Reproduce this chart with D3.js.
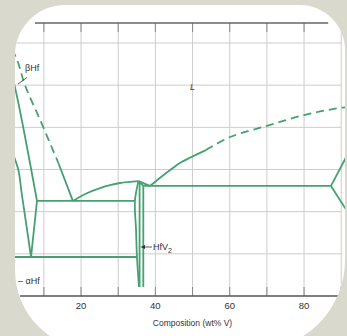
<!DOCTYPE html>
<html>
<head>
<meta charset="utf-8">
<script src="https://cdn.jsdelivr.net/npm/d3@7"></script>
<style>
  body { margin: 0; background: #d9dacd; }
  svg { display: block; }
  text { font-family: "Liberation Sans", Arial, sans-serif; fill: #333; }
</style>
</head>
<body>
<div id="chart"></div>
<script>
// axis ticks (wt% V, deg C)
const xTicks = [10, 20, 30, 40, 50, 60, 70, 80, 90];
const xTickLabels = [20, 40, 60, 80];
const yTicks = [1000, 1200, 1400, 1600, 1800, 2000, 2200];

// phase boundaries, [wt% V, T]
const hfLiquidusDashed = [[0, 2227], [3.0, 2110], [4.9, 2001], [9.0, 1835], [13.9, 1631]];
const hfLiquidusSolid = [[13.9, 1631], [17.8, 1451]];
const betaSolidus = [[0, 2150], [2.8, 1944], [8.15, 1451]];
const betaTransus = [[0, 1743], [3.0, 1607], [4.1, 1479], [6.55, 1185]];
const betaTransusRight = [[8.15, 1451], [6.55, 1185]];
const eutecticLeft = [[8.15, 1451], [34.5, 1451]];
const eutectoid = [[0, 1185], [35.05, 1185]];
const liquidusToPeak = [[17.8, 1451], [21.1, 1484], [25.1, 1512], [27.8, 1526], [30.5, 1536], [35.45, 1545]];
const hfv2Left = [[35.45, 1545], [34.5, 1451], [34.8, 1313], [35.05, 1185], [35.6, 1043]];
const hfv2Middle = [[35.75, 1540], [35.75, 1043]];
const hfv2Right = [[35.45, 1545], [36.75, 1522], [36.75, 1043]];
const peakToEutectic = [[35.45, 1545], [37.2, 1532], [38.55, 1522]];
const vLiquidusSolid = [[38.55, 1522], [41.2, 1560], [44.7, 1607], [46.6, 1631], [53.6, 1692]];
const vLiquidusDashed = [[53.6, 1692], [60.1, 1754], [69.8, 1806], [80.0, 1858], [89.7, 1892], [100, 1910]];
const eutecticRight = [[36.75, 1522], [87.25, 1522]];
const vSolidus = [[87.25, 1522], [93, 1715]];
const vSolvus = [[87.25, 1522], [93, 1363]];

const width = 347, height = 336;
const green = '#46a072';

const svg = d3.select('#chart').append('svg')
  .attr('width', width)
  .attr('height', height);

const xScale = d3.scaleLinear().domain([0, 100]).range([6.7, 378.4]);
const yScale = d3.scaleLinear().domain([1000, 2200]).range([296, 43]);

// card with uneven rounded corners
function cardPath(x0, y0, x1, y1, rtl, rtr, rbr, rbl) {
  const p = d3.path();
  p.moveTo(x0 + rtl, y0);
  p.lineTo(x1 - rtr, y0);
  p.arcTo(x1, y0, x1, y0 + rtr, rtr);
  p.lineTo(x1, y1 - rbr);
  p.arcTo(x1, y1, x1 - rbr, y1, rbr);
  p.lineTo(x0 + rbl, y1);
  p.arcTo(x0, y1, x0, y1 - rbl, rbl);
  p.lineTo(x0, y0 + rtl);
  p.arcTo(x0, y0, x0 + rtl, y0, rtl);
  p.closePath();
  return p.toString();
}
const card = cardPath(15, 5, 345, 350, 50, 45, 90, 80);

svg.append('defs').append('clipPath').attr('id', 'card')
  .append('path').attr('d', card);
svg.append('path').attr('d', card).attr('fill', '#fff');

const g = svg.append('g').attr('clip-path', 'url(#card)');

// grid
g.selectAll('line.hgrid')
  .data(yTicks.slice(1))
  .join('line')
  .attr('class', 'hgrid')
  .attr('x1', 0).attr('x2', xScale(90))
  .attr('y1', d => yScale(d)).attr('y2', d => yScale(d))
  .attr('stroke', '#cdcdcd').attr('stroke-width', 1);

const frameTop = yScale(2295);
g.selectAll('line.vgrid')
  .data(xTicks)
  .join('line')
  .attr('class', 'vgrid')
  .attr('x1', d => xScale(d)).attr('x2', d => xScale(d))
  .attr('y1', frameTop).attr('y2', yScale(1000))
  .attr('stroke', '#cdcdcd').attr('stroke-width', 1);

// inner ticks top and bottom
g.selectAll('line.ttick')
  .data(xTicks.slice(0, 8))
  .join('line')
  .attr('class', 'ttick')
  .attr('x1', d => xScale(d)).attr('x2', d => xScale(d))
  .attr('y1', frameTop).attr('y2', frameTop + 9)
  .attr('stroke', '#888').attr('stroke-width', 1);
g.selectAll('line.btick')
  .data(xTicks)
  .join('line')
  .attr('class', 'btick')
  .attr('x1', d => xScale(d)).attr('x2', d => xScale(d))
  .attr('y1', yScale(1000) - 9).attr('y2', yScale(1000))
  .attr('stroke', '#888').attr('stroke-width', 1);

// frame
g.append('line')
  .attr('x1', xScale(7.6)).attr('x2', xScale(86.5))
  .attr('y1', frameTop).attr('y2', frameTop)
  .attr('stroke', '#666').attr('stroke-width', 1.6);
g.append('line')
  .attr('x1', xScale(3.6)).attr('x2', xScale(90))
  .attr('y1', yScale(1000)).attr('y2', yScale(1000))
  .attr('stroke', '#555').attr('stroke-width', 1.3);

// phase boundaries
const line = d3.line().x(d => xScale(d[0])).y(d => yScale(d[1]));
const curve = d3.line().x(d => xScale(d[0])).y(d => yScale(d[1])).curve(d3.curveMonotoneX);
const curveY = d3.line().x(d => xScale(d[0])).y(d => yScale(d[1])).curve(d3.curveCatmullRom);

const solid = [
  [hfLiquidusSolid, line], [betaSolidus, curveY], [betaTransus, curveY], [betaTransusRight, line],
  [eutecticLeft, line], [eutectoid, line], [liquidusToPeak, curve], [hfv2Left, curveY],
  [hfv2Middle, line], [hfv2Right, line], [peakToEutectic, curveY], [vLiquidusSolid, curveY],
  [eutecticRight, line], [vSolidus, line], [vSolvus, line]
];
g.selectAll('path.solid')
  .data(solid)
  .join('path')
  .attr('class', 'solid')
  .attr('d', d => d[1](d[0]))
  .attr('fill', 'none')
  .attr('stroke', green)
  .attr('stroke-width', 1.8)
  .attr('stroke-linejoin', 'round');

g.selectAll('path.dashed')
  .data([hfLiquidusDashed, vLiquidusDashed])
  .join('path')
  .attr('class', 'dashed')
  .attr('d', d => curveY(d))
  .attr('fill', 'none')
  .attr('stroke', green)
  .attr('stroke-width', 1.8)
  .attr('stroke-dasharray', '8,5');

// labels
g.append('text').attr('x', 25).attr('y', 71).attr('font-size', 9).text('βHf');
g.append('line').attr('x1', 18).attr('y1', 84).attr('x2', 27).attr('y2', 77.5)
  .attr('stroke', '#333').attr('stroke-width', 0.8);
g.append('text').attr('x', xScale(49.3)).attr('y', 90).attr('font-size', 9)
  .attr('font-style', 'italic').text('L');
g.append('text').attr('x', 18).attr('y', 284).attr('font-size', 9).text('– αHf');

const hfv2 = g.append('text').attr('x', 153).attr('y', 250).attr('font-size', 9);
hfv2.append('tspan').text('HfV');
hfv2.append('tspan').attr('font-size', 7).attr('dy', 2.5).text('2');
g.append('line').attr('x1', 152).attr('y1', 247).attr('x2', 143).attr('y2', 247)
  .attr('stroke', '#333').attr('stroke-width', 0.8);
g.append('path').attr('d', 'M140.5,247 L145,245 L145,249 Z').attr('fill', '#333');

g.selectAll('text.xtick')
  .data(xTickLabels)
  .join('text')
  .attr('class', 'xtick')
  .attr('x', d => xScale(d))
  .attr('y', 308.5)
  .attr('text-anchor', 'middle')
  .attr('font-size', 9.5)
  .text(d => d);

g.append('text').attr('x', 192.5).attr('y', 326).attr('text-anchor', 'middle')
  .attr('font-size', 8.5).text('Composition (wt% V)');
</script>
</body>
</html>
